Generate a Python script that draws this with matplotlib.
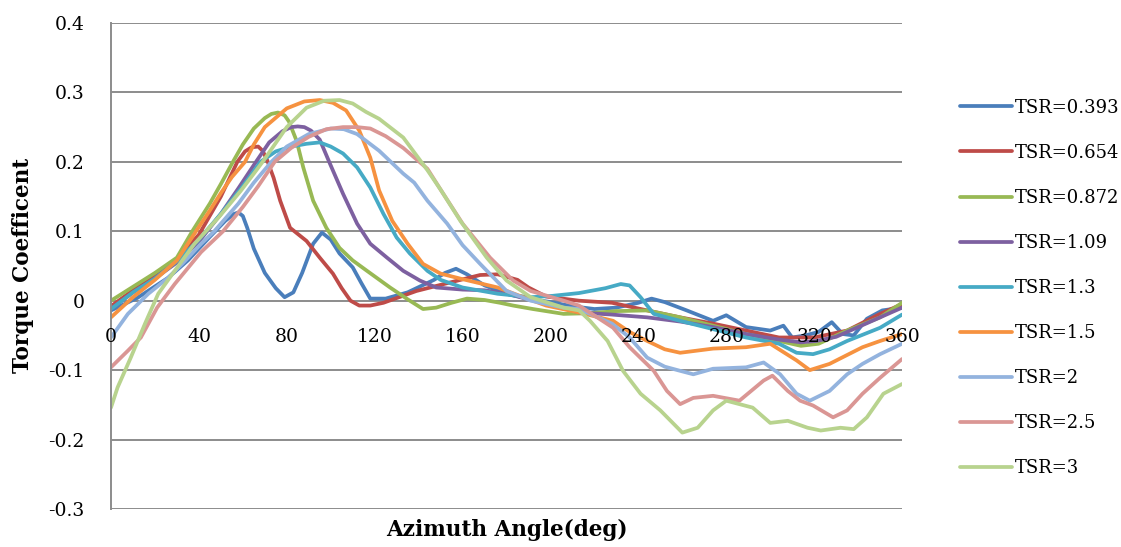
import numpy as np
import matplotlib
matplotlib.use("Agg")
import matplotlib.pyplot as plt

# torque coefficient vs azimuth angle for each tip speed ratio
labels = ["TSR=0.393", "TSR=0.654", "TSR=0.872", "TSR=1.09", "TSR=1.3",
          "TSR=1.5", "TSR=2", "TSR=2.5", "TSR=3"]
colors = ["#4A7EBB", "#BE4B48", "#98B954", "#7D60A0", "#46AAC5",
          "#F69240", "#93B3DE", "#DA9694", "#B8D38E"]

ang_0393 = [0, 12, 26, 35, 45, 52, 56, 58, 60, 62, 65, 70, 75, 79, 83, 87, 92, 96, 100, 104, 110,
            114, 118, 125, 135, 147, 152, 157, 162, 170, 180, 190, 200, 210, 220, 230, 240, 246,
            252, 262, 274, 280, 289, 300, 306, 310, 316, 322, 328, 333, 338, 344, 351, 360]
cq_0393 = [-0.014, 0.004, 0.033, 0.058, 0.092, 0.115, 0.125, 0.127, 0.122, 0.105, 0.075, 0.04,
           0.018, 0.005, 0.012, 0.04, 0.082, 0.098, 0.088, 0.068, 0.048, 0.025, 0.003, 0.003,
           0.012, 0.03, 0.04, 0.046, 0.038, 0.022, 0.01, 0.003, -0.002, -0.008, -0.012, -0.01,
           -0.003, 0.003, -0.002, -0.014, -0.029, -0.021, -0.038, -0.043, -0.036, -0.053, -0.05,
           -0.045, -0.031, -0.048, -0.05, -0.026, -0.014, -0.01]

ang_0654 = [0, 10, 20, 30, 40, 50, 57.5, 61, 64, 67, 69, 71, 74, 77, 81.5, 89, 95, 101, 105, 109,
            113, 118, 124, 139, 154, 168, 176, 185, 190, 198, 213, 228, 244, 259, 274, 289, 304,
            320, 335, 350, 360]
cq_0654 = [-0.008, 0.015, 0.035, 0.06, 0.095, 0.15, 0.2, 0.215, 0.221, 0.222, 0.216, 0.203, 0.177,
           0.144, 0.105, 0.086, 0.062, 0.039, 0.018, 0.0, -0.007, -0.007, -0.003, 0.014, 0.026,
           0.037, 0.038, 0.03, 0.019, 0.006, 0.0, -0.003, -0.014, -0.024, -0.033, -0.043, -0.053,
           -0.053, -0.043, -0.019, -0.005]

ang_0872 = [0, 10, 20, 30, 37, 45, 50, 55.5, 60, 65, 70, 73, 76, 79, 81, 84.5, 87.5, 92, 98, 104,
            110, 116.5, 127, 135, 142, 148, 155, 162, 170, 177, 183, 192, 206, 218, 230, 244, 259,
            274, 289, 304, 314, 322, 335, 350, 360]
cq_0872 = [0.0, 0.02, 0.04, 0.062, 0.1, 0.14, 0.168, 0.2, 0.225, 0.248, 0.263, 0.269, 0.271, 0.267,
           0.258, 0.23, 0.192, 0.144, 0.105, 0.076, 0.058, 0.043, 0.019, 0.002, -0.012, -0.01,
           -0.003, 0.003, 0.001, -0.003, -0.007, -0.012, -0.019, -0.018, -0.015, -0.014, -0.024,
           -0.036, -0.048, -0.058, -0.065, -0.062, -0.043, -0.024, -0.003]

ang_109 = [0, 10, 20, 30, 40, 50, 58, 66, 72, 78, 82, 85, 88, 91, 95, 99.7, 105.6, 112, 118, 125.6,
           133, 140.6, 148, 160, 170, 180, 190, 200, 213, 228, 244, 259, 274, 289, 304, 314, 321,
           330, 340, 350, 360]
cq_109 = [-0.012, 0.012, 0.032, 0.055, 0.085, 0.125, 0.162, 0.2, 0.228, 0.244, 0.25, 0.251, 0.25,
          0.245, 0.232, 0.197, 0.154, 0.111, 0.082, 0.062, 0.043, 0.029, 0.019, 0.016, 0.015, 0.01,
          0.002, -0.005, -0.017, -0.02, -0.024, -0.03, -0.038, -0.048, -0.056, -0.06, -0.058,
          -0.052, -0.038, -0.024, -0.01]

ang_13 = [0, 10, 20, 30, 40, 50, 60, 68, 75, 82, 89, 95, 100, 105.6, 112, 118, 124, 130, 136, 144,
          150, 160, 176, 191, 201, 213, 225, 232, 236, 241, 247, 259, 274, 289, 304, 312, 319.5,
          327, 335, 350, 360]
cq_13 = [-0.012, 0.012, 0.032, 0.057, 0.088, 0.125, 0.165, 0.2, 0.215, 0.222, 0.226, 0.228, 0.222,
         0.212, 0.192, 0.163, 0.125, 0.091, 0.068, 0.043, 0.03, 0.019, 0.01, 0.005, 0.007, 0.011,
         0.018, 0.024, 0.022, 0.005, -0.019, -0.029, -0.041, -0.053, -0.062, -0.075, -0.077,
         -0.07, -0.058, -0.039, -0.02]

ang_15 = [0, 10, 20, 30, 38.7, 45, 50, 55, 61, 65, 70, 80, 88, 95, 101, 107, 113, 118, 122, 128,
          135, 142, 150, 160, 168, 176, 186, 198, 213, 228.5, 236, 244, 252, 259, 274, 289, 300,
          312, 318, 327, 342, 350, 360]
cq_15 = [-0.024, 0.005, 0.03, 0.058, 0.1, 0.13, 0.155, 0.178, 0.2, 0.225, 0.25, 0.277, 0.287,
         0.289, 0.285, 0.274, 0.245, 0.206, 0.159, 0.115, 0.082, 0.053, 0.039, 0.031, 0.025,
         0.019, 0.007, -0.007, -0.017, -0.029, -0.045, -0.058, -0.07, -0.075, -0.069, -0.067,
         -0.062, -0.086, -0.1, -0.091, -0.067, -0.058, -0.048]

ang_2 = [0, 7.7, 17, 26, 33, 41, 47, 58, 65, 73, 80, 90, 100, 106, 112, 122, 133, 138, 144, 153,
         160, 168, 180, 191, 206, 213, 228, 236, 244, 252, 259, 265, 274, 289, 297, 304.5, 312,
         318, 327, 335, 342, 350, 360]
cq_2 = [-0.053, -0.019, 0.01, 0.033, 0.055, 0.082, 0.1, 0.14, 0.17, 0.2, 0.222, 0.24, 0.248, 0.247,
        0.24, 0.216, 0.183, 0.17, 0.144, 0.111, 0.08, 0.053, 0.014, 0.0, -0.01, -0.012, -0.033,
        -0.053, -0.082, -0.095, -0.101, -0.106, -0.098, -0.096, -0.089, -0.106, -0.134, -0.144,
        -0.13, -0.106, -0.091, -0.077, -0.062]

ang_25 = [0, 7.7, 13.6, 21, 29, 41, 51, 60, 67, 74.5, 82, 90, 98, 105.6, 112, 118, 125, 133, 144,
          150, 160, 172.5, 183, 191, 206, 213, 228.5, 236, 247, 253, 259, 265, 274, 286, 297, 301,
          308, 313.6, 319.5, 328.6, 335, 342, 350, 360]
cq_25 = [-0.096, -0.072, -0.053, -0.01, 0.024, 0.07, 0.1, 0.135, 0.165, 0.2, 0.22, 0.236, 0.247,
         0.25, 0.25, 0.248, 0.237, 0.22, 0.19, 0.16, 0.111, 0.062, 0.029, 0.014, 0.0, -0.007,
         -0.039, -0.067, -0.101, -0.13, -0.149, -0.14, -0.137, -0.144, -0.115, -0.108, -0.13,
         -0.144, -0.151, -0.168, -0.158, -0.134, -0.111, -0.084]

ang_3 = [0, 3, 9, 15.5, 21.5, 29, 38, 49, 59, 65, 69, 80, 89, 97, 104, 110, 116, 122, 133, 144,
         150, 159, 171, 180, 191, 206, 213, 218, 226, 233, 241, 250, 260, 267, 274, 280, 292, 300,
         308, 317, 323, 332, 338, 344, 351.5, 360]
cq_3 = [-0.154, -0.125, -0.082, -0.033, 0.01, 0.043, 0.082, 0.12, 0.158, 0.183, 0.2, 0.25, 0.278,
        0.288, 0.289, 0.284, 0.272, 0.262, 0.235, 0.188, 0.16, 0.115, 0.062, 0.029, 0.005, -0.01,
        -0.014, -0.029, -0.058, -0.101, -0.134, -0.158, -0.19, -0.183, -0.158, -0.144, -0.154,
        -0.176, -0.173, -0.183, -0.187, -0.183, -0.185, -0.168, -0.134, -0.12]

angles = [ang_0393, ang_0654, ang_0872, ang_109, ang_13, ang_15, ang_2, ang_25, ang_3]
coeffs = [cq_0393, cq_0654, cq_0872, cq_109, cq_13, cq_15, cq_2, cq_25, cq_3]

x_ticks = [0, 40, 80, 120, 160, 200, 240, 280, 320, 360]
y_ticks = [-0.3, -0.2, -0.1, 0, 0.1, 0.2, 0.3, 0.4]
y_tick_labels = ["-0.3", "-0.2", "-0.1", "0", "0.1", "0.2", "0.3", "0.4"]

plt.rcParams['font.family'] = ['DejaVu Serif']

fig = plt.figure(figsize=(11.21, 5.47), dpi=100)
ax = fig.add_axes([0.099, 0.0695, 0.7057, 0.8885])

for a, c, lab, col in zip(angles, coeffs, labels, colors):
    ax.plot(a, c, color=col, lw=2.7, label=lab, solid_capstyle='round', solid_joinstyle='round')

ax.set_xlim(0, 360)
ax.set_ylim(-0.3, 0.4)
ax.set_yticks(y_ticks)
ax.set_yticklabels(y_tick_labels)
ax.set_xticks(x_ticks)
ax.grid(axis='y', color='#8c8c8c', lw=1.4)
ax.set_axisbelow(True)
# angle labels sit on top of the curves
ax.xaxis.set_zorder(3)

for s in ['top', 'right']:
    ax.spines[s].set_visible(False)
ax.spines['left'].set_color('#8c8c8c')
ax.spines['left'].set_linewidth(1.4)
ax.spines['bottom'].set_position(('data', 0))
ax.spines['bottom'].set_visible(False)

ax.tick_params(axis='y', length=0, pad=19, labelsize=13.5)
ax.tick_params(axis='x', length=0, pad=20, labelsize=13.5)

fig.text(0.0205, 0.514, "Torque Coefficent", rotation=90, ha='center', va='center',
         fontsize=15.5, fontweight='bold')
fig.text(0.452, 0.031, "Azimuth Angle(deg)", ha='center', va='center',
         fontsize=15.5, fontweight='bold')

fig.legend(loc='upper left', bbox_to_anchor=(0.848, 0.836), frameon=False, fontsize=13,
           handlelength=2.9, handletextpad=0.15, labelspacing=1.5, borderpad=0)

fig.savefig("out.png", dpi=100)
